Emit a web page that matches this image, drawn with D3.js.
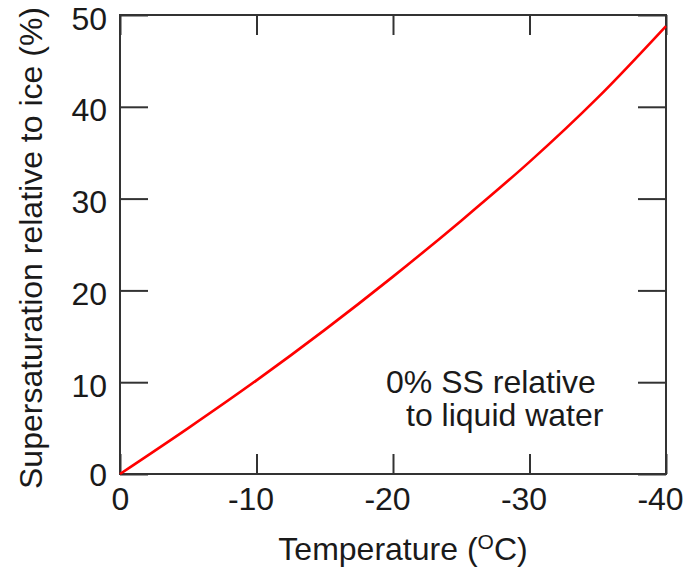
<!DOCTYPE html>
<html>
<head>
<meta charset="utf-8">
<script src="https://cdn.jsdelivr.net/npm/d3@7"></script>
<style>
  html, body { margin: 0; padding: 0; background: #fff; }
  svg { display: block; }
  text { font-family: "Liberation Sans", Arial, Helvetica, sans-serif; fill: #1a1a1a; }
</style>
</head>
<body>
<svg id="chart" width="685" height="570"></svg>
<script>
// Data
const temperatures = [0, -5, -10, -15, -20, -25, -30, -35, -40];
const supersatIce  = [0, 5.0, 10.2, 15.7, 21.5, 27.6, 34.0, 41.0, 48.8];
const xTicks = [0, -10, -20, -30, -40];
const yTicks = [0, 10, 20, 30, 40, 50];
const xTitle = "Temperature (";
const yTitle = "Supersaturation relative to ice (%)";
const noteLines = ["0% SS relative", "to liquid water"];

(function () {
const svg = d3.select("#chart");
const L = 120, R = 666, T = 15, B = 474;
const x = d3.scaleLinear().domain([0, -40]).range([L, R]);
const y = d3.scaleLinear().domain([0, 50]).range([B, T]);
const axisColor = "#333";
const fs = 32;
const ff = "Liberation Sans, Arial, sans-serif";

// Frame
svg.append("rect").attr("x", L).attr("y", T).attr("width", R - L).attr("height", B - T)
  .attr("fill", "none").attr("stroke", axisColor).attr("stroke-width", 2);

// Bottom axis (ticks inward)
const gBottom = svg.append("g").attr("transform", `translate(0,${B})`)
  .call(d3.axisBottom(x).tickValues(xTicks).tickSize(-20).tickSizeOuter(0).tickPadding(0).tickFormat(d3.format("d")));
gBottom.select(".domain").remove();
gBottom.selectAll(".tick line").attr("stroke", axisColor).attr("stroke-width", 2);
gBottom.selectAll(".tick text").attr("y", 36).attr("dy", 0).attr("dx", d => d < 0 ? -6 : 0)
  .attr("font-size", fs).attr("fill", "#1a1a1a").attr("font-family", ff)
  .text(d => d === 0 ? "0" : "-" + Math.abs(d));

// Top ticks
const gTop = svg.append("g").attr("transform", `translate(0,${T})`)
  .call(d3.axisTop(x).tickValues(xTicks).tickSize(-20).tickSizeOuter(0).tickFormat(""));
gTop.select(".domain").remove();
gTop.selectAll(".tick line").attr("stroke", axisColor).attr("stroke-width", 2);

// Left axis
const gLeft = svg.append("g").attr("transform", `translate(${L},0)`)
  .call(d3.axisLeft(y).tickValues(yTicks).tickSize(-28).tickSizeOuter(0).tickPadding(0).tickFormat(d3.format("d")));
gLeft.select(".domain").remove();
gLeft.selectAll(".tick line").attr("stroke", axisColor).attr("stroke-width", 2);
gLeft.selectAll(".tick text").attr("x", -13).attr("dy", d => d === 0 ? "0.36em" : "0.44em")
  .attr("font-size", fs).attr("fill", "#1a1a1a").attr("font-family", ff);

// Right ticks
const gRight = svg.append("g").attr("transform", `translate(${R},0)`)
  .call(d3.axisRight(y).tickValues(yTicks).tickSize(-28).tickSizeOuter(0).tickFormat(""));
gRight.select(".domain").remove();
gRight.selectAll(".tick line").attr("stroke", axisColor).attr("stroke-width", 2);

// Curve
const data = temperatures.map((t, i) => ({ t, v: supersatIce[i] }));
svg.append("path").datum(data)
  .attr("fill", "none").attr("stroke", "#ff0000").attr("stroke-width", 2.6)
  .attr("d", d3.line().x(d => x(d.t)).y(d => y(d.v)).curve(d3.curveCatmullRom));

// Annotation (one text block, two lines)
const note = svg.append("text").attr("font-size", fs);
note.append("tspan").attr("x", 386).attr("y", 393).text(noteLines[0]);
note.append("tspan").attr("x", 406).attr("y", 426).text(noteLines[1]);

// X title with superscript O
const xt = svg.append("text").attr("x", 403).attr("y", 560).attr("text-anchor", "middle").attr("font-size", fs);
xt.append("tspan").text(xTitle);
xt.append("tspan").attr("font-size", 21).attr("dy", -11).text("O");
xt.append("tspan").attr("dy", 11).text("C)");

// Y title
svg.append("text").attr("transform", `translate(42,248) rotate(-90)`)
  .attr("text-anchor", "middle").attr("font-size", fs).text(yTitle);
})();
</script>
</body>
</html>
